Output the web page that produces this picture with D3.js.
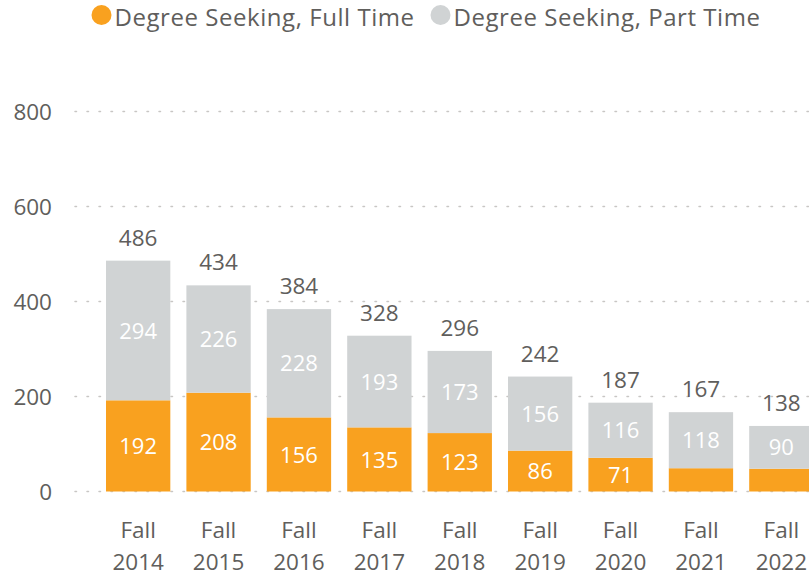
<!DOCTYPE html>
<html><head><meta charset="utf-8">
<script src="https://cdn.jsdelivr.net/npm/d3@7"></script>
<style>body{margin:0;background:#fff;}svg{display:block;font-family:"Open Sans",sans-serif;}</style>
</head><body><svg id="c" width="809" height="578"></svg>
<script>
const categories = ["Fall 2014","Fall 2015","Fall 2016","Fall 2017","Fall 2018","Fall 2019","Fall 2020","Fall 2021","Fall 2022"];
const fullTime = [192,208,156,135,123,86,71,49,48];
const partTime = [294,226,228,193,173,156,116,118,90];
const seriesNames = ["Degree Seeking, Full Time","Degree Seeking, Part Time"];
const colors = ["#F9A11F","#D0D3D4"];
const yTicks = [0,200,400,600,800];

const svg = d3.select("#c");
const x = d3.scaleBand().domain(categories).range([97.96, 821.56]).paddingInner(0.2).paddingOuter(0.1);
const y = d3.scaleLinear().domain([0,800]).range([491.5,111.5]);
const textCol = "#605E5C";

// gridlines
svg.append("g").selectAll("line").data(yTicks).join("line")
  .attr("x1",75).attr("x2",809).attr("y1",d=>y(d)).attr("y2",d=>y(d))
  .attr("stroke","#C8C6C4").attr("stroke-width",1.5).attr("stroke-dasharray","1.5,10.5").attr("stroke-linecap","round");

// y axis
const yAxis = d3.axisLeft(y).tickValues(yTicks).tickSize(0).tickPadding(0);
const ya = svg.append("g").attr("transform","translate(52,0)").call(yAxis);
ya.select(".domain").remove();
ya.selectAll("text").attr("fill",textCol).style("font-size","22.5px").style("font-family","'Open Sans',sans-serif").attr("dy","0.35em");

const data = categories.map((c,i)=>({cat:c, full:fullTime[i], part:partTime[i]}));
const stack = d3.stack().keys(["full","part"])(data);

const g = svg.append("g");
stack.forEach((s,si)=>{
  g.selectAll(null).data(s).join("rect")
    .attr("x",d=>x(d.data.cat)).attr("width",x.bandwidth())
    .attr("y",d=>y(d[1])).attr("height",d=>y(d[0])-y(d[1]))
    .attr("fill",colors[si]);
  g.selectAll(null).data(s.filter(d=>y(d[0])-y(d[1])>28)).join("text")
    .attr("x",d=>x(d.data.cat)+x.bandwidth()/2)
    .attr("y",d=>(y(d[0])+y(d[1]))/2).attr("dy","0.37em")
    .attr("text-anchor","middle").attr("fill","#fff").style("font-size","22px")
    .text(d=>d[1]-d[0]);
});
// totals
g.selectAll(null).data(data).join("text")
  .attr("x",d=>x(d.cat)+x.bandwidth()/2)
  .attr("y",d=>y(d.full+d.part)-15)
  .attr("text-anchor","middle").attr("fill",textCol).style("font-size","22.5px")
  .text(d=>d.full+d.part);

// x axis labels
const xl = svg.append("g").selectAll("text").data(categories).join("text")
  .attr("x",d=>x(d)+x.bandwidth()/2).attr("text-anchor","middle")
  .attr("fill",textCol).style("font-size","22.5px");
xl.append("tspan").attr("x",d=>x(d)+x.bandwidth()/2).attr("y",538).text(d=>d.split(" ")[0]);
xl.append("tspan").attr("x",d=>x(d)+x.bandwidth()/2).attr("y",570).text(d=>d.split(" ")[1]);

// legend
const lx = [101.5, 440.5];
const leg = svg.append("g");
seriesNames.forEach((n,i)=>{
  leg.append("circle").attr("cx",lx[i]).attr("cy",15).attr("r",10).attr("fill",colors[i]);
  leg.append("text").attr("x",lx[i]+13).attr("y",25.8)
    .attr("fill",textCol).style("font-size","24px").style("letter-spacing","0.55px").text(n);
});
</script></body></html>
